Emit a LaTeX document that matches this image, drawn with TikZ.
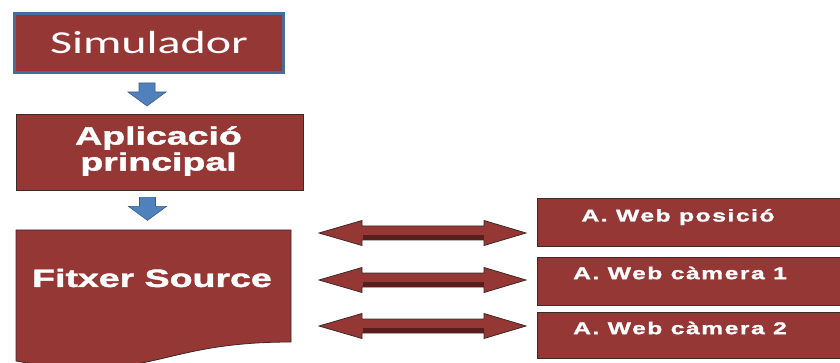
\documentclass[tikz,border=0pt]{standalone}
\usepackage{fontspec}
\setmainfont{Liberation Sans}
\newfontfamily\simfont[FakeStretch=1.5]{Carlito}
\newfontfamily\widefont[FakeStretch=1.5,BoldFeatures={FakeBold=1.6}]{Liberation Sans}
\newfontfamily\spacedfont[FakeStretch=1.45,LetterSpace=9,BoldFeatures={FakeBold=1.4}]{Liberation Sans}
\usetikzlibrary{calc}

\definecolor{boxred}{RGB}{149,55,53}
\definecolor{boxedge}{RGB}{62,40,40}
\definecolor{shaftdark}{RGB}{88,30,30}
\definecolor{simblue}{RGB}{70,108,158}
\definecolor{arrowblue}{RGB}{79,129,189}
\definecolor{arrowedge}{RGB}{56,93,138}

\begin{document}
\begin{tikzpicture}[x=1pt, y=-1pt,
	redbox/.style={draw=boxedge, line width=0.8pt, fill=boxred, inner sep=0pt},
	whitetext/.style={text=white, inner sep=0pt},
	bluearrow/.style={draw=arrowedge, line width=0.6pt, fill=arrowblue},
	redarrow/.style={draw=boxedge, line width=0.8pt, fill=boxred},
	downarrow/.pic={
		\draw[bluearrow] (-8,0) -- (8,0) -- (8,9) -- (19,9) -- (0,23) -- (-19,9) -- (-8,9) -- cycle;
	},
	twoarrow/.pic={
		\draw[redarrow] (0,0) -- (43,-12.5) -- (43,-7) -- (165,-7) -- (165,-12.5) -- (207,0)
			-- (165,12.5) -- (165,7) -- (43,7) -- (43,12.5) -- cycle;
		\fill[shaftdark] (43.5,2) rectangle (164.5,6.6);
	}]
	\useasboundingbox (0,0) rectangle (840,363);

	\node[redbox, draw=simblue, line width=3pt, minimum width=269pt, minimum height=59pt] (sim) at (149,43) {};
	\node[whitetext, font=\simfont\fontsize{32}{32}\selectfont] (simtxt) at (sim.center) {Simulador};

	\node[redbox, minimum width=287pt, minimum height=76pt] (app) at (159.5,152) {};
	\node[whitetext, align=center, font=\widefont\bfseries\fontsize{25}{26}\selectfont] (apptxt) at ($(app.center)+(-1,-1)$) {Aplicació\\principal};

	% document shape with the wavy bottom edge
	\coordinate (srcnw) at (16,230);
	\coordinate (srcse) at (291,342);
	\draw[redarrow] (srcnw) -- (srcnw -| srcse) -- (srcse) .. controls (153.5,342) and (153.5,385) .. (16,361) -- cycle;
	\node[whitetext, font=\widefont\bfseries\fontsize{25}{25}\selectfont] (srctxt) at (152,278) {Fitxer Source};

	\pic at ($(sim.south)+(-2,9)$) {downarrow};
	\pic at ($(app.south)+(-12,7)$) {downarrow};

	\node[redbox, minimum width=310pt, minimum height=48pt, anchor=west] (wpos) at (537,222) {};
	\node[redbox, minimum width=310pt, minimum height=48pt, anchor=west] (wcam1) at (537,281) {};
	\node[redbox, minimum width=310pt, minimum height=46pt, anchor=west] (wcam2) at (537,335) {};
	\node[whitetext, font=\spacedfont\bfseries\fontsize{17}{17}\selectfont] (wpostxt) at (678,217) {A. Web posició};
	\node[whitetext, font=\spacedfont\bfseries\fontsize{17}{17}\selectfont] (wcam1txt) at (680,273) {A. Web càmera 1};
	\node[whitetext, font=\spacedfont\bfseries\fontsize{17}{17}\selectfont] (wcam2txt) at (680,328) {A. Web càmera 2};

	\pic at ($(srcse |- wpos.west)+(28,11)$) {twoarrow};
	\pic at ($(srcse |- wcam1.west)+(28,-1)$) {twoarrow};
	\pic at ($(srcse |- wcam2.west)+(28,-9)$) {twoarrow};

\end{tikzpicture}
\end{document}
